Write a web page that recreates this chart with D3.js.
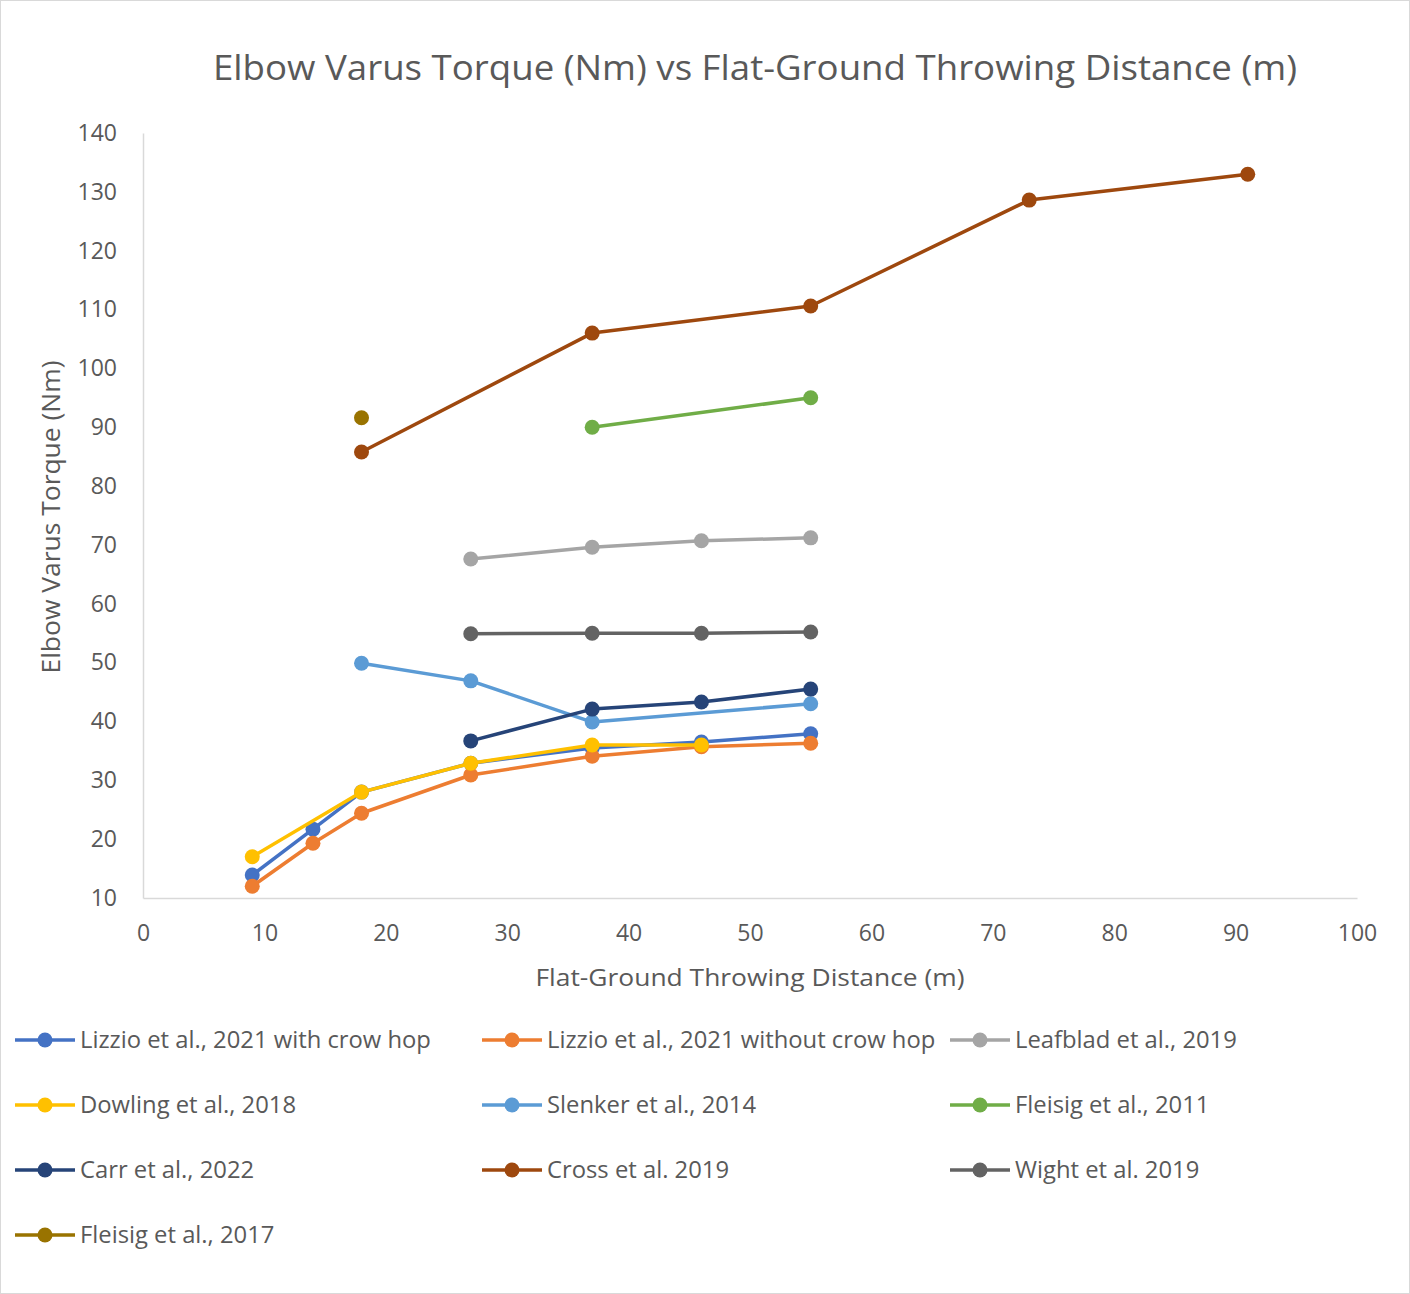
<!DOCTYPE html>
<html><head><meta charset="utf-8">
<script src="https://cdn.jsdelivr.net/npm/d3@7"></script>
<style>body{margin:0;background:#fff;}svg{display:block;font-family:"Open Sans",sans-serif;}</style>
</head><body>
<svg id="c" width="1410" height="1294"></svg>
<script>
const seriesNames = ["Lizzio et al., 2021 with crow hop","Lizzio et al., 2021 without crow hop","Leafblad et al., 2019","Dowling et al., 2018","Slenker et al., 2014","Fleisig et al., 2011","Carr et al., 2022","Cross et al. 2019","Wight et al. 2019","Fleisig et al., 2017"];
const seriesColors = ["#4472C4","#ED7D31","#A5A5A5","#FFC000","#5B9BD5","#70AD47","#264478","#9E480E","#636363","#997300"];
const lizzioWithX = [9,14,18,27,37,46,55];
const lizzioWithY = [13.9,21.7,28.0,32.9,35.5,36.5,37.9];
const lizzioWithoutX = [9,14,18,27,37,46,55];
const lizzioWithoutY = [12.0,19.3,24.4,30.9,34.1,35.7,36.3];
const leafbladX = [27,37,46,55];
const leafbladY = [67.6,69.6,70.7,71.2];
const dowlingX = [9,18,27,37,46];
const dowlingY = [17.0,28.0,32.9,36.0,36.0];
const slenkerX = [18,27,37,55];
const slenkerY = [49.9,46.9,39.9,43.0];
const fleisig2011X = [37,55];
const fleisig2011Y = [90.0,95.0];
const carrX = [27,37,46,55];
const carrY = [36.7,42.1,43.3,45.5];
const crossX = [18,37,55,73,91];
const crossY = [85.8,106.0,110.6,128.6,133.0];
const wightX = [27,37,46,55];
const wightY = [54.9,55.0,55.0,55.2];
const fleisig2017X = [18];
const fleisig2017Y = [91.6];
const xTicks = [0,10,20,30,40,50,60,70,80,90,100];
const yTicks = [10,20,30,40,50,60,70,80,90,100,110,120,130,140];

const seriesXs = [lizzioWithX,lizzioWithoutX,leafbladX,dowlingX,slenkerX,fleisig2011X,carrX,crossX,wightX,fleisig2017X];
const seriesYs = [lizzioWithY,lizzioWithoutY,leafbladY,dowlingY,slenkerY,fleisig2011Y,carrY,crossY,wightY,fleisig2017Y];
const series = seriesNames.map((n,i)=>({name:n,color:seriesColors[i],pts:seriesXs[i].map((x,j)=>({x:x,y:seriesYs[i][j]}))}));

const svg = d3.select("#c");
const txt = "#595959";
svg.append("rect").attr("x",0.5).attr("y",0.5).attr("width",1409).attr("height",1293).attr("fill","#fff").attr("stroke","#D9D9D9");

const x = d3.scaleLinear().domain([0,100]).range([143,1357]);
const y = d3.scaleLinear().domain([10,140]).range([898,133]);

svg.append("text").attr("x",755).attr("y",80).attr("text-anchor","middle").attr("fill",txt)
  .attr("font-size",35).attr("textLength",1084).attr("lengthAdjust","spacingAndGlyphs")
  .text("Elbow Varus Torque (Nm) vs Flat-Ground Throwing Distance (m)");

const xa = svg.append("g").attr("transform","translate(0,898)").call(d3.axisBottom(x).tickValues(xTicks).tickSize(0).tickPadding(27));
xa.select(".domain").attr("stroke","#D9D9D9").attr("stroke-width",1.5);
xa.selectAll("text").attr("fill",txt).attr("font-size",23).attr("font-family","Open Sans, sans-serif");
const ya = svg.append("g").attr("transform","translate(143,0)").call(d3.axisLeft(y).tickValues(yTicks).tickSize(0).tickPadding(26));
ya.select(".domain").attr("stroke","#D9D9D9").attr("stroke-width",1.5);
ya.selectAll("text").attr("fill",txt).attr("font-size",23).attr("font-family","Open Sans, sans-serif");

svg.append("text").attr("x",750).attr("y",986).attr("text-anchor","middle").attr("fill",txt)
  .attr("font-size",24).attr("textLength",429).attr("lengthAdjust","spacingAndGlyphs")
  .text("Flat-Ground Throwing Distance (m)");
svg.append("text").attr("transform","translate(60,517) rotate(-90)").attr("text-anchor","middle").attr("fill",txt)
  .attr("font-size",25).attr("textLength",313).attr("lengthAdjust","spacingAndGlyphs")
  .text("Elbow Varus Torque (Nm)");

const line = d3.line().x(d=>x(d.x)).y(d=>y(d.y));
const g = svg.append("g");
series.forEach(s=>{
  const sg = g.append("g");
  sg.append("path").attr("d",line(s.pts)).attr("fill","none").attr("stroke",s.color).attr("stroke-width",3.5).attr("stroke-linejoin","round");
  sg.selectAll("circle").data(s.pts).enter().append("circle").attr("cx",d=>x(d.x)).attr("cy",d=>y(d.y)).attr("r",7.5).attr("fill",s.color);
});

const colX = [15,482,950], rowY = [1040,1105,1170,1235];
series.forEach((s,i)=>{
  const cx = colX[i%3], cy = rowY[Math.floor(i/3)];
  const lg = svg.append("g");
  lg.append("line").attr("x1",cx).attr("x2",cx+60).attr("y1",cy).attr("y2",cy).attr("stroke",s.color).attr("stroke-width",3.5);
  lg.append("circle").attr("cx",cx+30).attr("cy",cy).attr("r",7.5).attr("fill",s.color);
  lg.append("text").attr("x",cx+65).attr("y",cy+8).attr("fill",txt).attr("font-size",23.8).text(s.name);
});
</script>
</body></html>
